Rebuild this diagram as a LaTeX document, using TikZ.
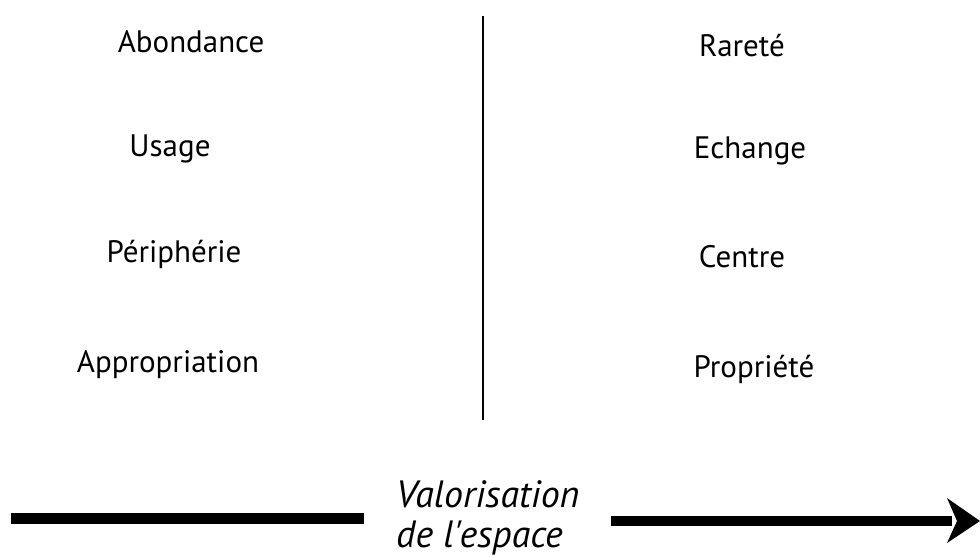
\documentclass[tikz,border=0pt]{standalone}
\usepackage{fontspec}
\setmainfont{PT Sans}
\newfontfamily\plainfont{PT Sans}
\begin{document}
\begin{tikzpicture}[x=1pt,y=-1pt,
  lbl/.style={anchor=base,inner sep=0pt,font=\fontsize{31}{36}\selectfont},
  vlbl/.style={anchor=base west,inner sep=0pt,font=\plainfont\fontsize{38}{44}\selectfont\itshape}]
\useasboundingbox (0,0) rectangle (980,557);
\node[lbl] (abon) at (191,52) {Abondance};
\node[lbl] (usage) at (170,156) {Usage};
\node[lbl] (peri) at (174,262) {Périphérie};
\node[lbl] (appr) at (168,372) {Appropriation};
\node[lbl] (rare) at (742,56) {Rareté};
\node[lbl] (ech) at (750,158) {Echange};
\node[lbl] (cent) at (742,267) {Centre};
\node[lbl] (prop) at (754,377) {Propriété};
\coordinate (vtop) at (483,16);
\coordinate (vbot) at (483,420);
\draw[line width=2pt] (vtop) -- (vbot);
\node[vlbl] (val1) at (396,507) {Valorisation};
\node[vlbl] (val2) at (396,547) {de l'espace};
\coordinate (l1) at (11,518.5);
\coordinate (l2) at (364,518.5);
\draw[line width=11pt] (l1) -- (l2);
\coordinate (r1) at (611,521);
\coordinate (r2) at (952,521);
\draw[line width=10pt] (r1) -- (r2);
\fill (947,498) -- (980,521) -- (947,543) -- (957,521) -- cycle;
\end{tikzpicture}
\end{document}
